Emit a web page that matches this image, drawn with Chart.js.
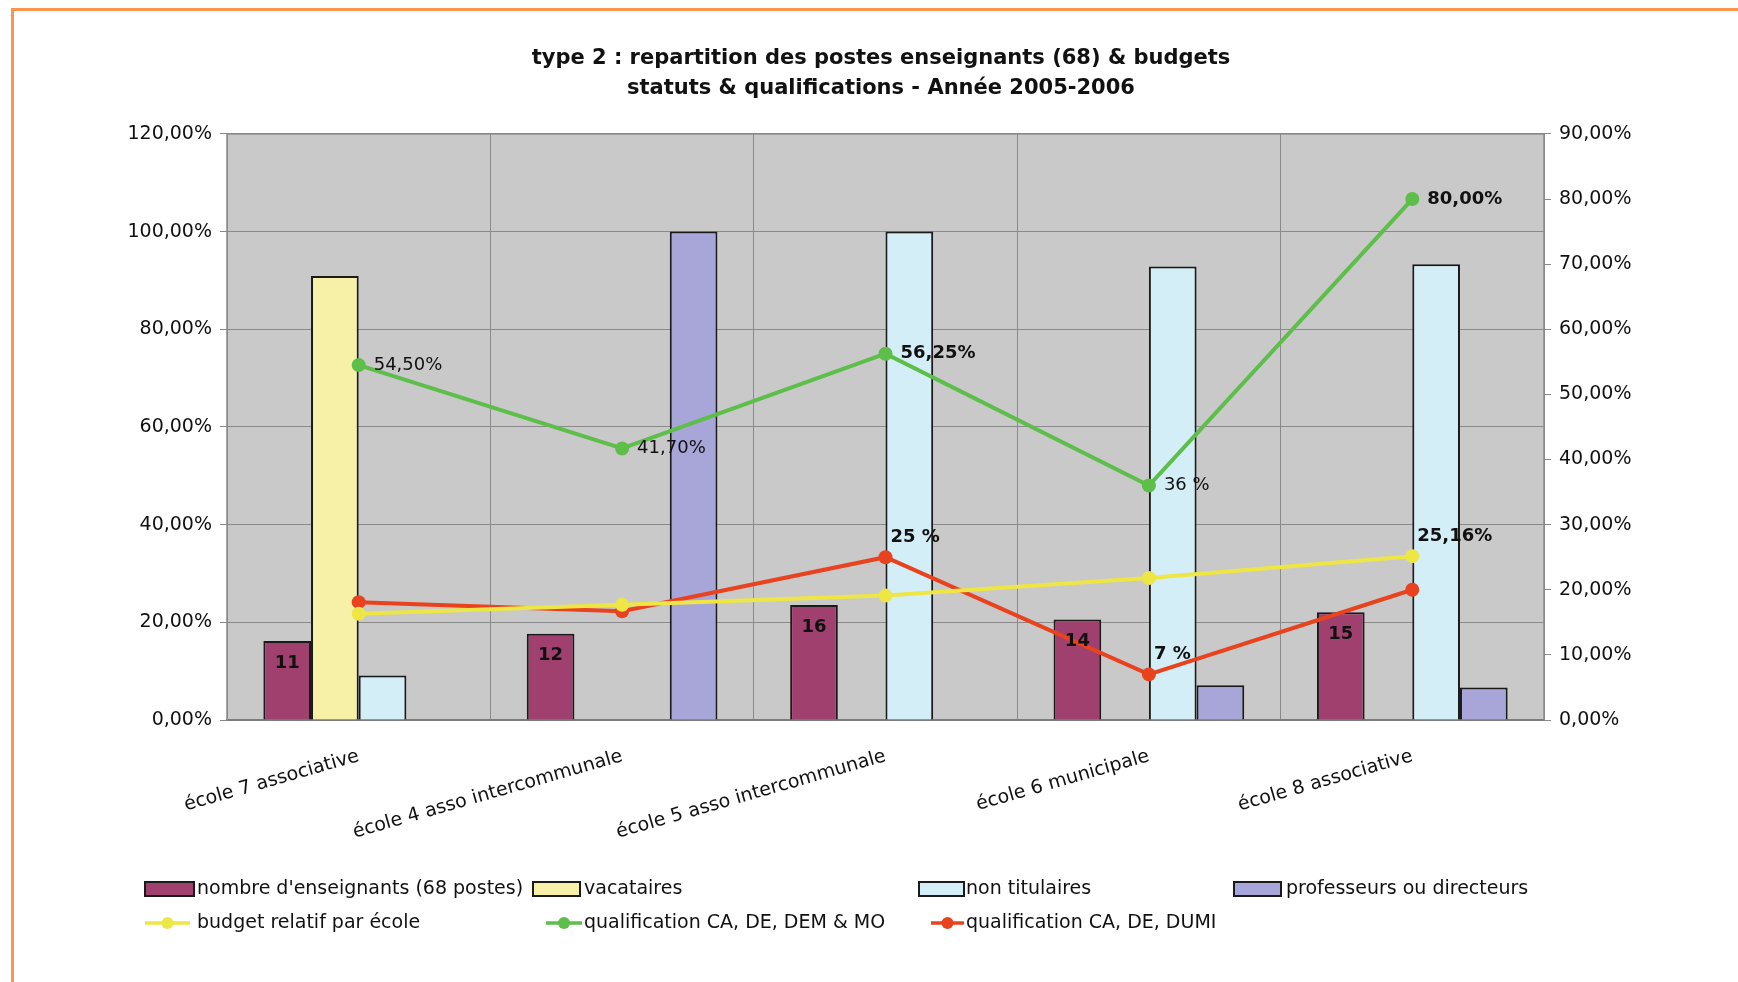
<!DOCTYPE html>
<html lang="fr">
<head>
<meta charset="utf-8">
<title>type 2 : répartition des postes enseignants (68) & budgets</title>
<script src="https://cdn.jsdelivr.net/npm/chart.js@4.4.1/dist/chart.umd.min.js"></script>
<style>
  html, body { margin: 0; padding: 0; background: #fff; }
  .frame { position: relative; width: 1738px; height: 982px; overflow: hidden; }
  .frame::before {
    content: ''; position: absolute; left: 11px; top: 8px; right: -10px; bottom: -10px;
    border-top: 3px solid #F7964C; border-left: 3px solid #F7964C;
  }
  canvas { position: absolute; left: 0; top: 0; }
</style>
</head>
<body>
<div class="frame">
  <canvas id="chart" width="1738" height="982"></canvas>
</div>
<script>
const FONT = "'DejaVu Sans', 'Liberation Sans', Arial, sans-serif";

// Ecoles (axe des catégories)
const schools = [
  'école 7 associative',
  'école 4 asso intercommunale',
  'école 5 asso intercommunale',
  'école 6 municipale',
  'école 8 associative'
];

// Nombre d'enseignants (68 postes) : effectif et part en %
const teacherCounts = [11, 12, 16, 14, 15];
const teacherShare = [16.18, 17.65, 23.53, 20.59, 22.06];

// Statuts dans chaque école (%), axe de gauche
const vacataires = [90.91, null, null, null, null];
const nonTitulaires = [9.09, null, 100, 92.86, 93.33];
const professeurs = [null, 100, null, 7.14, 6.67];

// Courbes (%), axe de droite
const budget = [16.3, 17.7, 19.1, 21.8, 25.16];
const qualifDEM = [54.5, 41.7, 56.25, 36, 80];
const qualifDUMI = [18.1, 16.7, 25, 7, 20];

// Etiquettes affichées sur les courbes
const budgetLabels = [null, null, null, null, '25,16%'];
const qualifDEMLabels = ['54,50%', '41,70%', '56,25%', '36 %', '80,00%'];
const qualifDUMILabels = [null, null, '25 %', '7 %', null];

// Graduations
const leftTicks = [0, 20, 40, 60, 80, 100, 120];
const rightTicks = [0, 10, 20, 30, 40, 50, 60, 70, 80, 90];

const fmtPct = v => v.toFixed(2).replace('.', ',') + '%';

// fond gris de la zone de tracé
const plotBackground = {
  id: 'plotBackground',
  beforeDraw(chart) {
    const { ctx, chartArea: a } = chart;
    ctx.save();
    ctx.fillStyle = '#C9C9C9';
    ctx.fillRect(a.left, a.top, a.right - a.left, a.bottom - a.top);
    ctx.restore();
  },
  beforeDatasetsDraw(chart) {
    const { ctx, chartArea: a } = chart;
    ctx.save();
    ctx.strokeStyle = '#8a8a8a';
    ctx.lineWidth = 1.5;
    ctx.strokeRect(a.left, a.top, a.right - a.left, a.bottom - a.top);
    ctx.restore();
  }
};

// étiquettes de valeurs (barres et points)
const valueLabels = {
  id: 'valueLabels',
  afterDatasetsDraw(chart) {
    const ctx = chart.ctx;
    ctx.save();
    ctx.fillStyle = '#111';
    chart.data.datasets.forEach((ds, i) => {
      const lab = ds.valueLabels;
      if (!lab) return;
      chart.getDatasetMeta(i).data.forEach((el, j) => {
        const text = lab.text[j];
        if (text == null) return;
        ctx.font = (lab.bold.includes(j) ? 'bold ' : '') + '18px ' + FONT;
        ctx.textBaseline = 'middle';
        if (lab.place === 'inside') {
          ctx.textAlign = 'center';
          ctx.fillText(text, el.x, el.y + 22);
        } else if (lab.place === 'right') {
          ctx.textAlign = 'left';
          ctx.fillText(text, el.x + 15, el.y);
        } else {
          ctx.textAlign = 'left';
          ctx.fillText(text, el.x + 5, el.y - 20);
        }
      });
    });
    ctx.restore();
  }
};

// légende en grille (4 colonnes, 2 lignes)
const gridLegend = {
  id: 'gridLegend',
  afterDraw(chart) {
    const slots = [
      { mx: 145, mw: 49, tx: 197, y: 889 },
      { mx: 533, mw: 47, tx: 584, y: 889 },
      { mx: 919, mw: 45, tx: 966, y: 889 },
      { mx: 1234, mw: 47, tx: 1286, y: 889 },
      { mx: 145, mw: 45, tx: 197, y: 923 },
      { mx: 546, mw: 36, tx: 584, y: 923 },
      { mx: 931, mw: 33, tx: 966, y: 923 }
    ];
    const ctx = chart.ctx;
    ctx.save();
    chart.data.datasets.forEach((ds, i) => {
      const s = slots[i];
      if (ds.type === 'line') {
        ctx.strokeStyle = ds.borderColor;
        ctx.lineWidth = 3.5;
        ctx.beginPath();
        ctx.moveTo(s.mx, s.y);
        ctx.lineTo(s.mx + s.mw, s.y);
        ctx.stroke();
        ctx.fillStyle = ds.borderColor;
        ctx.beginPath();
        ctx.arc(s.mx + s.mw / 2, s.y, 6, 0, Math.PI * 2);
        ctx.fill();
      } else {
        ctx.fillStyle = ds.backgroundColor;
        ctx.fillRect(s.mx, s.y - 7, s.mw, 14);
        ctx.strokeStyle = '#1a1a1a';
        ctx.lineWidth = 2;
        ctx.strokeRect(s.mx, s.y - 7, s.mw, 14);
      }
      ctx.fillStyle = '#111';
      ctx.font = '19px ' + FONT;
      ctx.textAlign = 'left';
      ctx.textBaseline = 'middle';
      ctx.fillText(ds.label, s.tx, s.y);
    });
    ctx.restore();
  }
};

const barStyle = { borderColor: '#1a1a1a', borderWidth: 2, yAxisID: 'y', order: 1 };
const lineStyle = { type: 'line', borderWidth: 4, pointRadius: 7, pointBorderWidth: 0, yAxisID: 'y1', order: 0 };

new Chart(document.getElementById('chart'), {
  type: 'bar',
  data: {
    labels: schools,
    datasets: [
      { ...barStyle, label: "nombre d'enseignants (68 postes)", data: teacherShare, backgroundColor: '#A0406F',
        valueLabels: { text: teacherCounts.map(String), bold: [0, 1, 2, 3, 4], place: 'inside' } },
      { ...barStyle, label: 'vacataires', data: vacataires, backgroundColor: '#F6F1A6' },
      { ...barStyle, label: 'non titulaires', data: nonTitulaires, backgroundColor: '#D3EEF6' },
      { ...barStyle, label: 'professeurs ou directeurs', data: professeurs, backgroundColor: '#A8A6D8' },
      { ...lineStyle, label: 'budget relatif par école', data: budget, borderColor: '#EDE645', backgroundColor: '#EDE645',
        pointBackgroundColor: '#EDE645', valueLabels: { text: budgetLabels, bold: [4], place: 'above' } },
      { ...lineStyle, label: 'qualification CA, DE, DEM & MO', data: qualifDEM, borderColor: '#5DBE4A', backgroundColor: '#5DBE4A',
        pointBackgroundColor: '#5DBE4A', valueLabels: { text: qualifDEMLabels, bold: [2, 4], place: 'right' } },
      { ...lineStyle, label: 'qualification CA, DE, DUMI', data: qualifDUMI, borderColor: '#E8431E', backgroundColor: '#E8431E',
        pointBackgroundColor: '#E8431E', valueLabels: { text: qualifDUMILabels, bold: [2, 3], place: 'above' } }
    ]
  },
  options: {
    responsive: false,
    animation: false,
    layout: { padding: { left: 100, right: 76, top: 0, bottom: 132 } },
    datasets: { bar: { categoryPercentage: 0.724, barPercentage: 1 } },
    plugins: {
      legend: { display: false },
      tooltip: { enabled: false },
      title: {
        display: true,
        text: ['type 2 : repartition des postes enseignants (68) & budgets',
               'statuts & qualifications - Année 2005-2006'],
        color: '#111',
        font: { family: FONT, size: 21, weight: 'bold', lineHeight: 1.45 },
        padding: { top: 43, bottom: 30 }
      }
    },
    scales: {
      x: {
        grid: { offset: true, color: '#8a8a8a', drawTicks: false },
        border: { color: '#555', width: 2 },
        ticks: { color: '#111', font: { family: FONT, size: 19 }, minRotation: 16, maxRotation: 16, autoSkip: false, padding: 25 },
        afterFit: axis => { axis.height = 130; }
      },
      y: {
        position: 'left',
        min: 0, max: 120,
        afterBuildTicks: axis => { axis.ticks = leftTicks.map(v => ({ value: v })); },
        grid: { color: '#8a8a8a', tickLength: 7 },
        border: { color: '#8a8a8a' },
        ticks: { color: '#111', font: { family: FONT, size: 19 }, padding: 8, callback: fmtPct },
        afterFit: axis => { axis.width = 127; }
      },
      y1: {
        position: 'right',
        min: 0, max: 90,
        afterBuildTicks: axis => { axis.ticks = rightTicks.map(v => ({ value: v })); },
        grid: { drawOnChartArea: false, color: '#8a8a8a', tickLength: 7 },
        border: { color: '#8a8a8a' },
        ticks: { color: '#111', font: { family: FONT, size: 19 }, padding: 8, callback: fmtPct },
        afterFit: axis => { axis.width = 118; }
      }
    }
  },
  plugins: [plotBackground, valueLabels, gridLegend]
});
</script>
</body>
</html>
